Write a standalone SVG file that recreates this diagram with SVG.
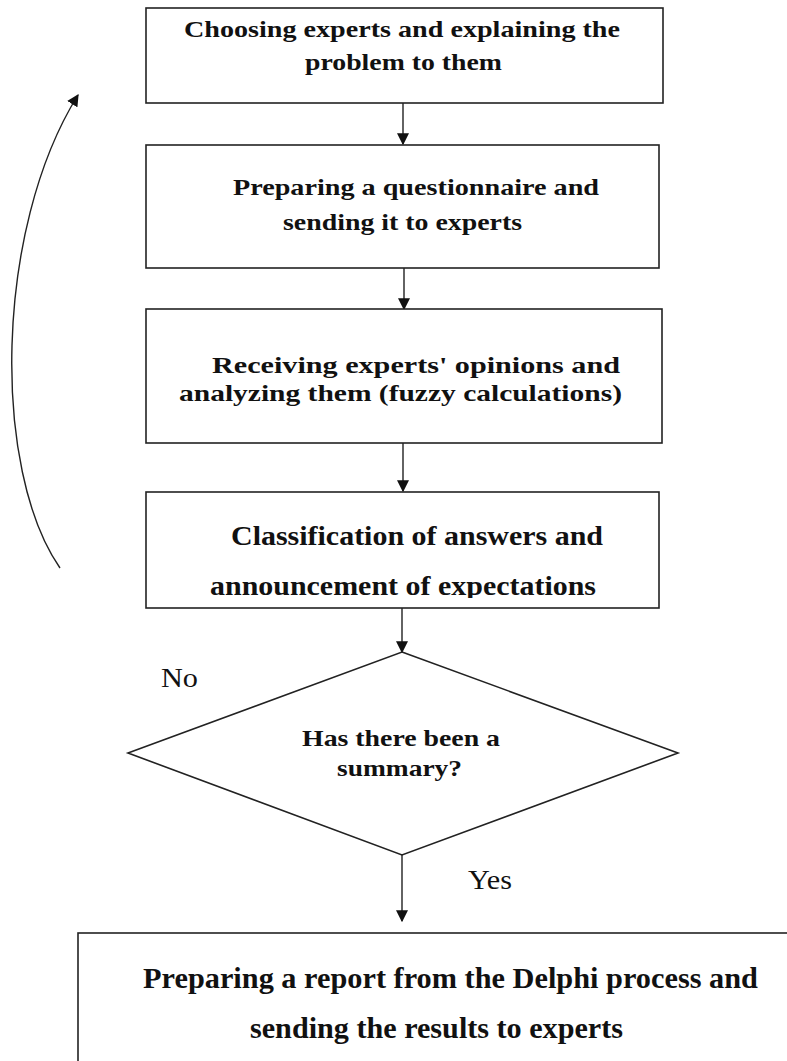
<svg xmlns="http://www.w3.org/2000/svg" width="787" height="1061" viewBox="0 0 787 1061">
<style>
.box{fill:#fff;stroke:#222;stroke-width:1.6}
.t{font-family:"Liberation Serif","Times New Roman",serif;font-weight:bold;fill:#111;text-anchor:start}
.lbl{font-family:"Liberation Serif","Times New Roman",serif;fill:#111}
.c{fill:none;stroke:#222;stroke-width:1.4}
</style>
<defs>
<marker id="ah2" viewBox="0 0 10 10" refX="9" refY="5" markerWidth="12" markerHeight="12" markerUnits="userSpaceOnUse" orient="auto">
<path d="M0,0 L10,5 L0,10 z" fill="#111"/>
</marker>
<clipPath id="clip4"><rect x="146" y="492" width="513" height="106"/></clipPath>
</defs>
<rect width="787" height="1061" fill="#fff"/>
<g id="connectors">
<line class="c" x1="403" y1="103" x2="403" y2="144" marker-end="url(#ah2)"/>
<line class="c" x1="404" y1="258" x2="404" y2="309" marker-end="url(#ah2)"/>
<line class="c" x1="403" y1="443" x2="403" y2="491" marker-end="url(#ah2)"/>
<line class="c" x1="402" y1="608" x2="402" y2="652" marker-end="url(#ah2)"/>
<line class="c" x1="402" y1="855" x2="402" y2="921" marker-end="url(#ah2)"/>
<path class="c" d="M60,568 C-8,470 -6,230 78,95" marker-end="url(#ah2)"/>
<text class="lbl" x="161" y="687" font-size="28" textLength="37" lengthAdjust="spacingAndGlyphs">No</text>
<text class="lbl" x="468" y="889" font-size="27" textLength="44" lengthAdjust="spacingAndGlyphs">Yes</text>
</g>
<g id="n1">
<rect class="box" x="146" y="8" width="517" height="95"/>
<text class="t" x="184" y="37" font-size="23" textLength="436" lengthAdjust="spacingAndGlyphs">Choosing experts and explaining the</text>
<text class="t" x="305" y="70" font-size="23" textLength="197" lengthAdjust="spacingAndGlyphs">problem to them</text>
</g>
<g id="n2">
<rect class="box" x="146" y="145" width="513" height="123"/>
<text class="t" x="233" y="195" font-size="24" textLength="366" lengthAdjust="spacingAndGlyphs">Preparing a questionnaire and</text>
<text class="t" x="283" y="230" font-size="24" textLength="239" lengthAdjust="spacingAndGlyphs">sending it to experts</text>
</g>
<g id="n3">
<rect class="box" x="146" y="309" width="516" height="134"/>
<text class="t" x="212" y="373" font-size="24" textLength="408" lengthAdjust="spacingAndGlyphs">Receiving experts' opinions and</text>
<text class="t" x="179" y="401" font-size="24" textLength="443" lengthAdjust="spacingAndGlyphs">analyzing them (fuzzy calculations)</text>
</g>
<g id="n4">
<rect class="box" x="146" y="492" width="513" height="116"/>
<g clip-path="url(#clip4)">
<text class="t" x="231" y="545" font-size="28" textLength="372" lengthAdjust="spacingAndGlyphs">Classification of answers and</text>
<text class="t" x="210" y="595" font-size="28" textLength="386" lengthAdjust="spacingAndGlyphs">announcement of expectations</text>
</g>
</g>
<g id="d1">
<polygon class="box" points="402,652 678,753 402,855 128,753"/>
<text class="t" x="302" y="746" font-size="24" textLength="198" lengthAdjust="spacingAndGlyphs">Has there been a</text>
<text class="t" x="337" y="776" font-size="24" textLength="125" lengthAdjust="spacingAndGlyphs">summary?</text>
</g>
<g id="n5">
<rect class="box" x="78" y="933" width="730" height="160"/>
<text class="t" x="143" y="988" font-size="29" textLength="615" lengthAdjust="spacingAndGlyphs">Preparing a report from the Delphi process and</text>
<text class="t" x="250" y="1038" font-size="29" textLength="373" lengthAdjust="spacingAndGlyphs">sending the results to experts</text>
</g>
</svg>
